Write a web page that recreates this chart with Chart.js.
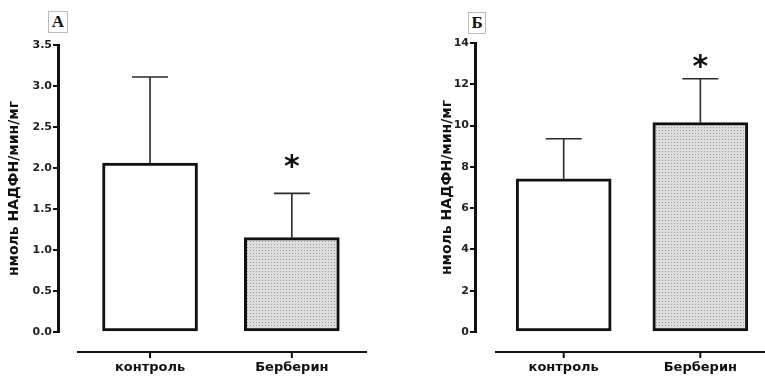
<!DOCTYPE html>
<html>
<head>
<meta charset="utf-8">
<script src="https://cdn.jsdelivr.net/npm/chart.js@4/dist/chart.umd.min.js"></script>
<style>
  body { margin: 0; background: #fff; }
  #wrap { position: relative; width: 765px; height: 376px; }
  .panel { position: absolute; top: 0; height: 376px; }
  .tag {
    position: absolute; font: bold 17px "Liberation Serif", serif; color: #111;
    border: 1px solid #bbb; background: #fff; text-align: center; line-height: 19px;
  }
</style>
</head>
<body>
<div id="wrap">
  <div class="panel" style="left:0;width:385px"><canvas id="chartA" width="385" height="376"></canvas></div>
  <div class="panel" style="left:385px;width:380px"><canvas id="chartB" width="380" height="376"></canvas></div>
  <div class="tag" style="left:48px;top:11px;width:18px;height:20px">А</div>
  <div class="tag" style="left:468px;top:12px;width:16px;height:20px">Б</div>
</div>
<script>
// data
const categories = ['контроль', 'Берберин'];
const valuesA = [2.06, 1.15];
const errorsA = [1.05, 0.54];
const starA = [null, 2.07];
const ticksA = [0, 0.5, 1, 1.5, 2, 2.5, 3, 3.5];

const valuesB = [7.42, 10.14];
const errorsB = [1.94, 2.13];
const starB = [null, 13.05];
const ticksB = [0, 2, 4, 6, 8, 10, 12, 14];

const yTitle = 'нмоль НАДФН/мин/мг';

// stipple fill for the treated group
function stipple() {
    const c = document.createElement('canvas');
    c.width = 3; c.height = 3;
    const g = c.getContext('2d');
    g.fillStyle = '#dedede';
    g.fillRect(0, 0, 3, 3);
    g.fillStyle = '#9c9c9c';
    g.fillRect(1, 1, 1, 1);
    return g.createPattern(c, 'repeat');
}

// error bars, stars and the detached x axis line
const extras = {
    id: 'extras',
    afterDatasetsDraw(chart, args, opts) {
        const ctx = chart.ctx;
        const y = chart.scales.y;
        const meta = chart.getDatasetMeta(0);
        ctx.save();
        meta.data.forEach((bar, i) => {
            const top = y.getPixelForValue(opts.values[i] + opts.errors[i]);
            const base = y.getPixelForValue(opts.values[i]);
            ctx.strokeStyle = '#2a2a2a';
            ctx.lineWidth = 1.6;
            ctx.beginPath();
            ctx.moveTo(bar.x, base);
            ctx.lineTo(bar.x, top);
            ctx.moveTo(bar.x - 18, top);
            ctx.lineTo(bar.x + 18, top);
            ctx.stroke();
            if (opts.stars[i] != null) {
                ctx.fillStyle = '#111';
                ctx.font = 'bold 30px "DejaVu Sans"';
                ctx.textAlign = 'center';
                ctx.textBaseline = 'middle';
                ctx.fillText('*', bar.x, y.getPixelForValue(opts.stars[i]) + 6);
            }
        });
        // x axis line below the plot
        const area = chart.chartArea;
        const ly = area.bottom + 20;
        ctx.strokeStyle = '#111';
        ctx.lineWidth = 2;
        ctx.beginPath();
        ctx.moveTo(area.left + opts.lineStart, ly);
        ctx.lineTo(opts.toEdge ? chart.width : area.right, ly);
        meta.data.forEach(bar => {
            ctx.moveTo(bar.x, ly);
            ctx.lineTo(bar.x, ly + 6);
        });
        ctx.stroke();
        ctx.restore();
    }
};

function makeChart(id, values, errors, stars, yTicks, yMax, dec, cfg) {
    const ctx = document.getElementById(id).getContext('2d');
    return new Chart(ctx, {
        type: 'bar',
        data: {
            datasets: [{
                data: values.map((v, i) => ({ x: i, y: v })),
                backgroundColor: ['#ffffff', stipple()],
                borderColor: '#111',
                borderWidth: 3,
                borderSkipped: false,
                barThickness: 95
            }]
        },
        plugins: [extras],
        options: {
            responsive: false,
            animation: false,
            events: [],
            layout: {
                autoPadding: false,
                padding: { left: cfg.padLeft, top: cfg.padTop, right: cfg.padRight, bottom: 0 }
            },
            plugins: {
                legend: { display: false },
                tooltip: { enabled: false },
                extras: { values: values, errors: errors, stars: stars, lineStart: cfg.lineStart, toEdge: cfg.toEdge }
            },
            scales: {
                x: {
                    type: 'linear',
                    offset: false,
                    min: -0.649,
                    max: cfg.xMax,
                    afterFit: s => { s.height = 44; },
                    afterBuildTicks: s => { s.ticks = categories.map((_, i) => ({ value: i })); },
                    border: { display: false },
                    grid: { display: false, drawTicks: false },
                    ticks: {
                        padding: 28,
                        color: '#111',
                        font: { family: 'DejaVu Sans', weight: 'bold', size: 13 },
                        callback: v => categories[v]
                    }
                },
                y: {
                    min: 0,
                    max: yMax,
                    afterFit: s => { s.width = cfg.axisWidth; },
                    afterBuildTicks: s => { s.ticks = yTicks.map(v => ({ value: v })); },
                    border: { display: true, color: '#111', width: 3 },
                    grid: { drawOnChartArea: false, color: '#111', lineWidth: 2, tickLength: 5 },
                    ticks: {
                        padding: 1,
                        color: '#222',
                        font: { family: 'DejaVu Sans', weight: 'bold', size: 11 },
                        callback: v => v.toFixed(dec)
                    },
                    title: {
                        display: true,
                        text: yTitle,
                        color: '#111',
                        padding: { top: 6, bottom: 0 },
                        font: { family: 'DejaVu Sans', weight: 'bold', size: 14 }
                    }
                }
            }
        }
    });
}

makeChart('chartA', valuesA, errorsA, starA, ticksA, 3.5, 1,
    { padLeft: 0, padTop: 45, padRight: 18, axisWidth: 58, xMax: 1.53, lineStart: 19, toEdge: false });
makeChart('chartB', valuesB, errorsB, starB, ticksB, 14, 0,
    { padLeft: 48, padTop: 43, padRight: 0, axisWidth: 42, xMax: 1.394, lineStart: 20, toEdge: true });
</script>
</body>
</html>
